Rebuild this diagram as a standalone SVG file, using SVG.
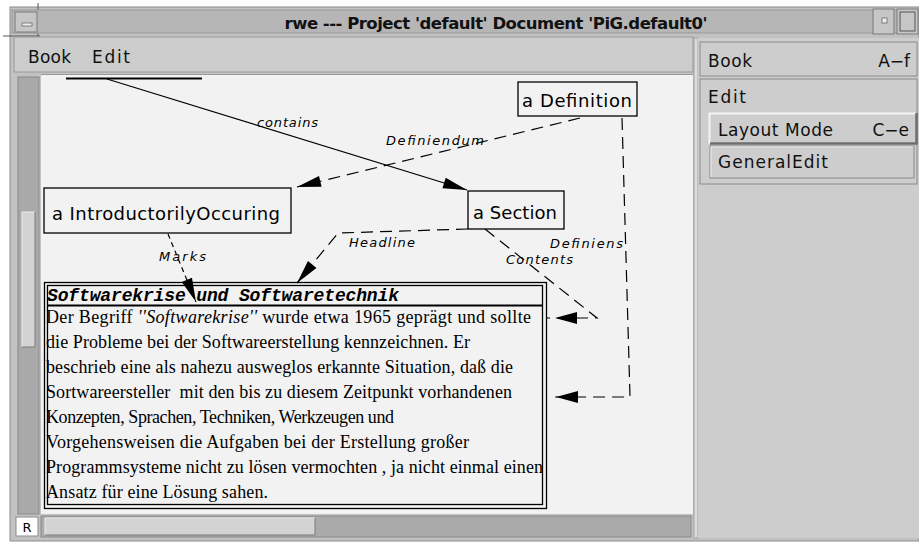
<svg xmlns="http://www.w3.org/2000/svg" width="919" height="544" viewBox="0 0 919 544">
<style>
  .ui{font-family:"DejaVu Sans","Noto Sans",sans-serif;font-size:17px;fill:#111}
  .title{font-family:"DejaVu Sans",sans-serif;font-size:16.5px;font-weight:bold;fill:#111}
  .node rect{fill:none;stroke:#000;stroke-width:1.3}
  .node text.lbl{font-family:"DejaVu Sans","Noto Sans",sans-serif;font-size:18px;fill:#000}
  .edge{fill:none;stroke:#000;stroke-width:1.2}
  .dash{stroke-dasharray:12 7}
  .fine{stroke-dasharray:5 4}
  .elbl{font-family:"DejaVu Sans",sans-serif;font-style:italic;font-size:13px;fill:#000}
  .node text.body{font-family:"Liberation Serif","Times New Roman",serif;font-size:18px;fill:#000;white-space:pre}
  .node text.head{font-family:"Liberation Mono","Courier New",monospace;font-size:18px;font-weight:bold;font-style:italic;fill:#000}
  .btn{fill:#cdcdcd;stroke:#8a8a8a;stroke-width:1}
</style>
<defs>
  <!-- filled dart used as arrowhead; tip sits on the path end -->
  <marker id="arr" markerUnits="userSpaceOnUse" markerWidth="30" markerHeight="14" viewBox="0 -7 30 14" refX="24" refY="0" orient="auto" overflow="visible">
    <path d="M0,-5.5 L24,0 L0,5.5 Z" fill="#000" stroke="none"/>
  </marker>
  <!-- same dart, drawn a few pixels back from the path end -->
  <marker id="arrBack" markerUnits="userSpaceOnUse" markerWidth="34" markerHeight="14" viewBox="0 -7 34 14" refX="30" refY="0" orient="auto" overflow="visible">
    <path d="M0,-6 L22,0 L0,6 Z" fill="#000" stroke="none"/>
  </marker>
</defs>

<!-- window frame -->
<rect x="0" y="0" width="919" height="544" fill="#ffffff"/>
<rect x="10" y="7" width="909" height="534" fill="#c2c2c2" stroke="#8c8c8c"/>
<path d="M38,3 V36 M3,36 H40" stroke="#555" stroke-width="1" fill="none"/>

<!-- title bar -->
<rect x="12" y="10" width="905" height="23" fill="#b6b6b6" stroke="#9a9a9a"/>
<rect x="15" y="12" width="22" height="20" fill="#c6c6c6" stroke="#7a7a7a"/>
<rect x="22" y="23" width="10" height="3" fill="#eeeeee" stroke="#666" stroke-width="0.8"/>
<text class="title" x="496" y="29" text-anchor="middle" textLength="423" lengthAdjust="spacing">rwe --- Project 'default' Document 'PiG.default0'</text>
<rect x="873" y="9" width="21" height="25" fill="#c6c6c6" stroke="#7a7a7a"/>
<rect x="882" y="18" width="5" height="5" fill="#eeeeee" stroke="#666" stroke-width="0.8"/>
<rect x="897" y="9" width="21" height="25" fill="#c6c6c6" stroke="#7a7a7a"/>
<rect x="900" y="12" width="15" height="19" fill="none" stroke="#555"/>

<!-- menu bar -->
<rect x="14" y="37" width="679" height="35" fill="#cccccc" stroke="#9a9a9a"/>
<text class="ui" x="28" y="63" textLength="43">Book</text>
<text class="ui" x="92" y="63" textLength="38">Edit</text>

<!-- drawing canvas -->
<rect x="41" y="75" width="652" height="439" fill="#f2f2f2"/>
<line x1="41" y1="74.5" x2="693" y2="74.5" stroke="#9a9a9a"/>

<!-- vertical scrollbar -->
<rect x="18" y="77" width="21" height="437" fill="#a9a9a9" stroke="#8a8a8a"/>
<rect x="22" y="212" width="13" height="135" fill="#d3d3d3"/>
<path d="M22,347 V212 H35" stroke="#eeeeee" fill="none"/>
<path d="M22,347 H35 V212" stroke="#7a7a7a" fill="none"/>

<!-- horizontal scrollbar -->
<rect x="41" y="516" width="650" height="21" fill="#aaaaaa" stroke="#8a8a8a"/>
<rect x="45" y="518" width="270" height="17" fill="#d3d3d3"/>
<path d="M45,535 V518 H315" stroke="#eeeeee" fill="none"/>
<path d="M45,535 H315 V518" stroke="#7a7a7a" fill="none"/>
<rect x="16" y="517" width="22" height="19" fill="#ffffff" stroke="#8a8a8a"/>
<text x="27" y="532" text-anchor="middle" style="font-family:'DejaVu Sans',sans-serif;font-size:13px">R</text>

<!-- command panel -->
<rect x="694" y="38" width="4" height="500" fill="#dcdcdc" stroke="#a0a0a0"/>
<rect x="698" y="38" width="221" height="500" fill="#cdcdcd"/>
<rect class="btn" x="700" y="42" width="217" height="34"/>
<text class="ui" x="708" y="67" textLength="44">Book</text>
<text class="ui" x="910" y="67" text-anchor="end">A−f</text>
<rect class="btn" x="700" y="79" width="217" height="105"/>
<text class="ui" x="708" y="103" textLength="38">Edit</text>
<rect x="709" y="113" width="207" height="31" fill="#cdcdcd"/>
<path d="M709.5,144 V113.5 H916" stroke="#f4f4f4" stroke-width="2" fill="none"/>
<path d="M710,143.5 H916.5 V113" stroke="#6e6e6e" stroke-width="2.5" fill="none"/>
<text class="ui" x="718" y="136" textLength="115">Layout Mode</text>
<text class="ui" x="909" y="136" text-anchor="end">C−e</text>
<rect x="710" y="146" width="204" height="32" fill="#cdcdcd" stroke="#8a8a8a"/>
<path d="M711,177 V147 H913" stroke="#eeeeee" fill="none"/>
<text class="ui" x="718" y="168" textLength="110">GeneralEdit</text>

<!-- connectors -->
<g id="connectors">
  <path id="e-contains" class="edge" d="M107,79 L467,190" marker-end="url(#arr)"/>
  <path id="e-definiendum" class="edge dash" d="M580,118 L297,187" marker-end="url(#arr)"/>
  <path id="e-definiens" class="edge dash" d="M622,118 L630,397 L548,397" marker-end="url(#arrBack)"/>
  <path id="e-contents" class="edge dash" d="M485,229 L597,318 L547,318" marker-end="url(#arrBack)"/>
  <path id="e-headline" class="edge dash" d="M468,229 L338,233 L297,283" marker-end="url(#arr)"/>
  <path id="e-marks" class="edge fine" d="M168,234 L196,302" marker-end="url(#arr)"/>
  <text class="elbl" x="257" y="127" textLength="61">contains</text>
  <text class="elbl" x="386" y="145" textLength="98">Definiendum</text>
  <text class="elbl" x="550" y="248" textLength="73">Definiens</text>
  <text class="elbl" x="506" y="264" textLength="67">Contents</text>
  <text class="elbl" x="349" y="247" textLength="66">Headline</text>
  <text class="elbl" x="159" y="261" textLength="47">Marks</text>
</g>

<!-- nodes -->
<g id="n-book" class="node">
  <line x1="66" y1="78.5" x2="202" y2="78.5" stroke="#000" stroke-width="2"/>
</g>
<g id="n-definition" class="node">
  <rect x="518" y="82" width="119" height="34"/>
  <text class="lbl" x="522" y="107" textLength="110">a Definition</text>
</g>
<g id="n-intro" class="node">
  <rect x="44" y="188" width="247" height="45"/>
  <text class="lbl" x="52" y="220" textLength="228">a IntroductorilyOccuring</text>
</g>
<g id="n-section" class="node">
  <rect x="468" y="191" width="96" height="38"/>
  <text class="lbl" x="473" y="219" textLength="84">a Section</text>
</g>
<g id="n-text" class="node">
  <rect x="44.5" y="282.5" width="502" height="226" fill="#f2f2f2" stroke-width="1.5"/>
  <rect x="47.5" y="285.5" width="495" height="219" stroke-width="1.2"/>
  <line x1="47" y1="305.5" x2="543" y2="305.5" stroke="#000" stroke-width="2"/>
  <text class="head" x="47" y="301" textLength="352">Softwarekrise und Softwaretechnik</text>
  <text class="body" x="46" y="323" textLength="485">Der Begriff <tspan font-style="italic">''Softwarekrise''</tspan> wurde etwa 1965 geprägt und sollte</text>
  <text class="body" x="46" y="348" textLength="424">die Probleme bei der Softwareerstellung kennzeichnen. Er</text>
  <text class="body" x="46" y="373" textLength="467">beschrieb eine als nahezu ausweglos erkannte Situation, daß die</text>
  <text class="body" x="46" y="398" textLength="466">Sortwareersteller  mit den bis zu diesem Zeitpunkt vorhandenen</text>
  <text class="body" x="46" y="423" textLength="348">Konzepten, Sprachen, Techniken, Werkzeugen und</text>
  <text class="body" x="46" y="448" textLength="423">Vorgehensweisen die Aufgaben bei der Erstellung großer</text>
  <text class="body" x="46" y="473" textLength="497">Programmsysteme nicht zu lösen vermochten , ja nicht einmal einen</text>
  <text class="body" x="46" y="498" textLength="222">Ansatz für eine Lösung sahen.</text>
</g>
</svg>
